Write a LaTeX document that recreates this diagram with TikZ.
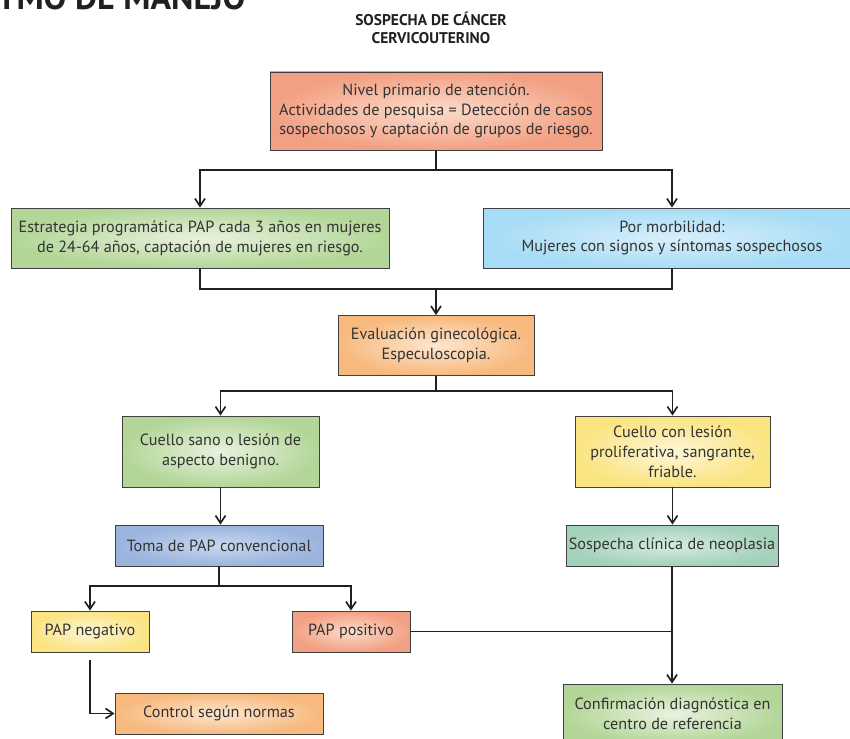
\documentclass[tikz,border=0pt]{standalone}
\usepackage{fontspec}
\setmainfont{PT Sans}
\usetikzlibrary{arrows.meta}
\definecolor{ink}{HTML}{231F20}
\definecolor{txt}{HTML}{333333}
\definecolor{salmonE}{HTML}{F2A083}
\definecolor{salmonC}{HTML}{FCDCCB}
\definecolor{greenE}{HTML}{B3D698}
\definecolor{greenC}{HTML}{E8F2DE}
\definecolor{skyE}{HTML}{A6DCF5}
\definecolor{skyC}{HTML}{D8EFFA}
\definecolor{orangeE}{HTML}{F7B97E}
\definecolor{orangeC}{HTML}{FDE6CF}
\definecolor{yellowE}{HTML}{FAE482}
\definecolor{yellowC}{HTML}{FEF6D6}
\definecolor{steelE}{HTML}{9AB4DE}
\definecolor{steelC}{HTML}{C9D7EE}
\definecolor{tealE}{HTML}{A3D1BA}
\definecolor{tealC}{HTML}{D6ECE1}
\tikzset{
  box/.style={draw=black!75, line width=0.8pt, align=center, text=txt,
    font=\fontsize{16.2}{19.8}\selectfont, inner sep=2pt},
  salmon/.style={box, shading=radial, inner color=salmonC, outer color=salmonE},
  green/.style={box, shading=radial, inner color=greenC, outer color=greenE},
  sky/.style={box, shading=radial, inner color=skyC, outer color=skyE},
  orange/.style={box, shading=radial, inner color=orangeC, outer color=orangeE},
  yellow/.style={box, shading=radial, inner color=yellowC, outer color=yellowE},
  steel/.style={box, shading=radial, inner color=steelC, outer color=steelE},
  teal/.style={box, shading=radial, inner color=tealC, outer color=tealE},
  link/.style={draw=ink, line width=1.7pt},
  arr/.style={link, -{Straight Barb[length=7.5pt,width=10pt]}},
}
\begin{document}
\begin{tikzpicture}[x=1pt,y=-1pt]
\useasboundingbox (0,0) rectangle (850,738);
\clip (0,0) rectangle (850,738);

% headings
\node[anchor=base west, inner sep=0, text=ink, font=\bfseries\fontsize{34}{34}\selectfont] (head) at (-3,10) {TMO DE MANEJO};
\node[align=center, inner sep=0, text=ink, font=\bfseries\fontsize{15.5}{18.5}\selectfont] (title) at (431,28) {SOSPECHA DE CÁNCER\\CERVICOUTERINO};

% boxes
\node[salmon, minimum width=332pt, minimum height=78pt] (nivel) at (436,111)
  {Nivel primario de atención.\\Actividades de pesquisa = Detección de casos\\sospechosos y captación de grupos de riesgo.};
\node[green, minimum width=378pt, minimum height=60pt] (estr) at (200,238)
  {Estrategia programática PAP cada 3 años en mujeres\\de 24-64 años, captación de mujeres en riesgo.};
\node[sky, minimum width=378pt, minimum height=60pt] (morb) at (672,238)
  {Por morbilidad:\\Mujeres con signos y síntomas sospechosos};
\node[orange, minimum width=196pt, minimum height=60pt] (eval) at (436,345.5)
  {Evaluación ginecológica.\\Especuloscopia.};
\node[green, minimum width=197pt, minimum height=71pt] (sano) at (220.5,451.5)
  {Cuello sano o lesión de\\aspecto benigno.};
\node[yellow, minimum width=195pt, minimum height=71pt] (lesion) at (672.5,451.5)
  {Cuello con lesión\\proliferativa, sangrante,\\friable.};
\node[steel, minimum width=208pt, minimum height=41pt] (toma) at (219,545.5)
  {Toma de PAP convencional};
\node[teal, minimum width=212pt, minimum height=41pt] (sosp) at (672,545.5)
  {Sospecha clínica de neoplasia};
\node[yellow, minimum width=118pt, minimum height=41pt] (neg) at (90,631.5)
  {PAP negativo};
\node[salmon, minimum width=118pt, minimum height=41pt] (pos) at (351,631.5)
  {PAP positivo};
\node[orange, minimum width=208pt, minimum height=41pt] (ctrl) at (219,713.5)
  {Control según normas};
\node[green, minimum width=219pt, minimum height=60pt] (conf) at (672.5,714)
  {Confirmación diagnóstica en\\centro de referencia};

% rails
\coordinate (r1) at (0,170);
\coordinate (r2) at (0,289);
\coordinate (r3) at (0,391);
\coordinate (r4) at (0,586);

% connectors
\draw[link] (nivel.south) -- (nivel.south |- r1);
\draw[arr] (nivel.south |- r1) -| (estr.north);
\draw[arr] (nivel.south |- r1) -| (morb.north);

\draw[link] (estr.south) -- (estr.south |- r2) -| (morb.south);
\draw[arr] (eval.north |- r2) -- (eval.north);

\draw[link] (eval.south) -- (eval.south |- r3);
\draw[arr] (eval.south |- r3) -| (sano.north);
\draw[arr] (eval.south |- r3) -| (lesion.north);

\draw[arr] (sano.south) -- (sano.south |- toma.north);
\draw[arr] (lesion.south) -- (lesion.south |- sosp.north);

\draw[link] (toma.south) -- (toma.south |- r4);
\draw[arr] (toma.south |- r4) -| (neg.north);
\draw[arr] (toma.south |- r4) -| (pos.north);

\draw[arr] ([yshift=-8pt]neg.south) |- (ctrl.west);
\draw[arr] (sosp.south) -- (sosp.south |- conf.north);
\draw[link] (pos.east) -- (pos.east -| sosp.south);
\end{tikzpicture}
\end{document}
